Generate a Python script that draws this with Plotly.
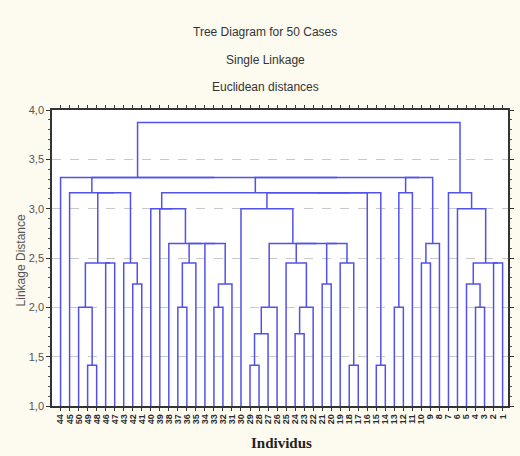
import plotly.graph_objects as go

# ---- data ----
leaf_labels = [44, 45, 50, 49, 48, 46, 47, 43, 42, 41,
               40, 39, 38, 37, 36, 35, 34, 33, 32, 31,
               30, 29, 28, 27, 26, 25, 24, 23, 22, 21,
               20, 19, 18, 17, 16, 15, 14, 13, 12, 11,
               10, 9, 8, 7, 6, 5, 4, 3, 2, 1]

# linkage rows: node ids < 50 are leaf positions, >= 50 are earlier merges (50 + row)
merge_left = [3, 2, 5, 51, 8, 7, 53, 1, 13, 58, 17, 60, 16, 59, 12, 11, 10,
              21, 67, 68, 26, 70, 25, 29, 32, 31, 73, 72, 69, 20, 35, 79, 81, 66,
              37, 84, 40, 86, 85, 83, 57, 0, 46, 45, 48, 93, 44, 43, 91]
merge_right = [4, 50, 6, 52, 9, 54, 55, 56, 14, 15, 18, 19, 61, 62, 63, 64, 65,
               22, 23, 24, 27, 28, 71, 30, 33, 74, 75, 76, 77, 78, 36, 34, 80, 82,
               38, 39, 41, 42, 87, 88, 89, 90, 47, 92, 49, 94, 95, 96, 97]
merge_height = [1.414, 2.0, 2.449, 2.449, 2.236, 2.449, 3.162, 3.162, 2.0, 2.449,
                2.0, 2.236, 2.646, 2.646, 2.646, 3.0, 3.0,
                1.414, 1.732, 2.0, 1.732, 2.0, 2.449, 2.236, 1.414, 2.449,
                2.646, 2.646, 2.646, 3.0, 1.414, 3.162, 3.162, 3.162,
                2.0, 3.162, 2.449, 2.646, 3.317, 3.317, 3.317, 3.317,
                2.0, 2.236, 2.449, 2.449, 3.0, 3.162, 3.873]

y_ticks = [1.0, 1.5, 2.0, 2.5, 3.0, 3.5, 4.0]
y_tick_text = ["1,0", "1,5", "2,0", "2,5", "3,0", "3,5", "4,0"]

# ---- build dendrogram segments ----
n = len(leaf_labels)
base = 1.0
pos = {i: float(i) for i in range(n)}
hgt = {i: base for i in range(n)}
xs, ys = [], []
for k, (a, b, h) in enumerate(zip(merge_left, merge_right, merge_height)):
    xa, xb = pos[a], pos[b]
    xs += [xa, xa, xb, xb, None]
    ys += [hgt[a], h, h, hgt[b], None]
    pos[n + k] = (xa + xb) / 2
    hgt[n + k] = h

line_color = "#5252ea"
fig = go.Figure()
fig.add_trace(go.Scatter(x=xs, y=ys, mode="lines",
                         line=dict(color=line_color, width=1.5),
                         hoverinfo="skip", showlegend=False))

W, H = 520, 456
ml, mr, mt, mb = 52, 6, 110, 50
pw = W - ml - mr
ph = H - mt - mb

def px_x(px):
    return (px - ml) / pw

def px_y(py):
    return (H - mb - py) / ph

sans = "Liberation Sans, Arial, sans-serif"

fig.update_layout(
    width=W, height=H,
    margin=dict(l=ml, r=mr, t=mt, b=mb),
    paper_bgcolor="#fdfaf0",
    plot_bgcolor="#ffffff",
    showlegend=False,
    xaxis=dict(
        range=[-0.95, 49.6],
        tickmode="array",
        tickvals=list(range(n)),
        ticktext=["<b>%d</b>" % v for v in leaf_labels],
        tickangle=-90,
        tickfont=dict(family=sans, size=9, color="#2a2a2a"),
        ticks="outside", ticklen=3, tickcolor="#333333",
        showline=True, linecolor="#333333", linewidth=1.5,
        mirror="ticks",
        showgrid=False, zeroline=False,
    ),
    yaxis=dict(
        range=[1.0, 4.0],
        tickmode="array",
        tickvals=y_ticks,
        ticktext=y_tick_text,
        tickfont=dict(family=sans, size=11, color="#555555"),
        ticks="outside", ticklen=4, tickcolor="#333333",
        minor=dict(ticks="outside", dtick=0.1, ticklen=2, tickcolor="#555555", showgrid=False),
        showline=True, linecolor="#333333", linewidth=1.5,
        mirror="ticks",
        showgrid=True, gridcolor="#c8c8c8", griddash="dash", gridwidth=1,
        zeroline=False,
    ),
    annotations=[
        dict(text="Tree Diagram for 50 Cases", x=px_x(268), y=px_y(32), xref="paper", yref="paper",
             showarrow=False, font=dict(family=sans, size=12, color="#333333"), yanchor="middle"),
        dict(text="Single Linkage", x=px_x(268), y=px_y(60), xref="paper", yref="paper",
             showarrow=False, font=dict(family=sans, size=12, color="#333333"), yanchor="middle"),
        dict(text="Euclidean distances", x=px_x(268), y=px_y(87), xref="paper", yref="paper",
             showarrow=False, font=dict(family=sans, size=12, color="#333333"), yanchor="middle"),
        dict(text="Linkage Distance", x=px_x(21), y=px_y(260), xref="paper", yref="paper",
             showarrow=False, textangle=-90,
             font=dict(family=sans, size=12, color="#555555"),
             xanchor="center", yanchor="middle"),
        dict(text="<b>Individus</b>", x=px_x(285), y=px_y(443), xref="paper", yref="paper",
             showarrow=False,
             font=dict(family="Liberation Serif, Times New Roman, serif", size=15, color="#222222"),
             xanchor="center", yanchor="middle"),
    ],
)

fig.write_html("out.html", config={"displayModeBar": False},
               post_script="document.body.style.margin='0';document.body.style.overflow='hidden';")
